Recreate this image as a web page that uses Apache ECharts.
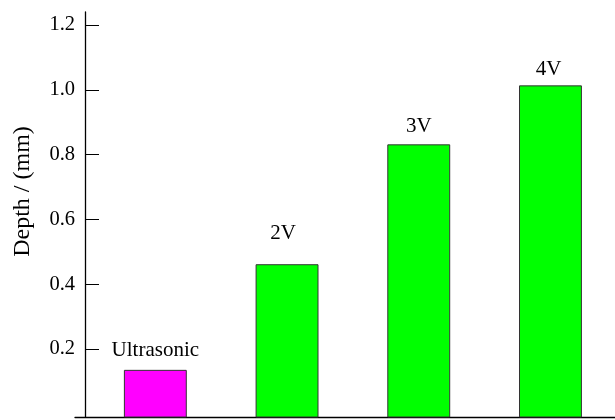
<!DOCTYPE html>
<html>
<head>
<meta charset="utf-8">
<script src="https://cdn.jsdelivr.net/npm/echarts@6/dist/echarts.min.js"></script>
<style>html,body{margin:0;padding:0;background:#fff}#c{width:615px;height:420px}</style>
</head>
<body>
<div id="c"></div>
<script>
var categories = ['Ultrasonic', '2V', '3V', '4V'];
var depths = [0.134, 0.46, 0.83, 1.012];
var barColors = ['#ff00ff', '#00ff00', '#00ff00', '#00ff00'];
var yTicks = [0.2, 0.4, 0.6, 0.8, 1.0, 1.2];
var yTitle = 'Depth / (mm)';

var labelGap = [20, 31, 18, 16];
var labelShift = [0, -4, 0, -2];
var Y_MIN = -0.01, Y_MAX = 1.24;
var FONT = '"Liberation Serif", "Times New Roman", serif';

var chart = echarts.init(document.getElementById('c'), null, {renderer: 'canvas'});
var data = depths.map(function (v, i) { return [i + 1, v, i]; });

chart.setOption({
  animation: false,
  grid: {left: 75, right: 0, top: 12, bottom: 3, containLabel: false},
  xAxis: {
    type: 'value', min: 0.39, max: 4.49,
    axisLine: {show: true, onZero: false, lineStyle: {color: '#000', width: 1.3}},
    axisTick: {show: false}, axisLabel: {show: false}, splitLine: {show: false}
  },
  yAxis: {
    type: 'value', min: Y_MIN, max: Y_MAX, offset: -10,
    name: yTitle, nameLocation: 'middle', nameGap: 50, nameRotate: 90,
    nameTextStyle: {fontFamily: FONT, fontSize: 24, color: '#000', padding: [0, 0, 0, 46]},
    axisLine: {show: true, onZero: false, lineStyle: {color: '#000', width: 1.3}},
    axisTick: {show: true, inside: true, length: 14, customValues: yTicks, lineStyle: {color: '#000', width: 1}},
    axisLabel: {show: true, customValues: yTicks, margin: 10, fontFamily: FONT, fontSize: 20.5, color: '#000',
      formatter: function (v) { return v.toFixed(1); }},
    splitLine: {show: false}
  },
  series: [{
    type: 'custom',
    data: data,
    renderItem: function (params, api) {
      var x = api.value(0), v = api.value(1), idx = api.value(2);
      var top = api.coord([x, v]);
      var base = api.coord([x, Y_MIN]);
      var w = api.size([1, 0])[0] * 0.47;
      return {
        type: 'group',
        children: [{
          type: 'rect',
          shape: {x: top[0] - w / 2, y: top[1], width: w, height: base[1] - top[1]},
          style: {fill: barColors[idx], stroke: '#333', lineWidth: 1}
        }, {
          type: 'text',
          x: top[0] + labelShift[idx], y: top[1] - labelGap[idx],
          style: {text: categories[idx], fontFamily: FONT, fontSize: 21, fill: '#000',
            align: 'center', verticalAlign: 'middle'}
        }]
      };
    }
  }]
});
</script>
</body>
</html>
